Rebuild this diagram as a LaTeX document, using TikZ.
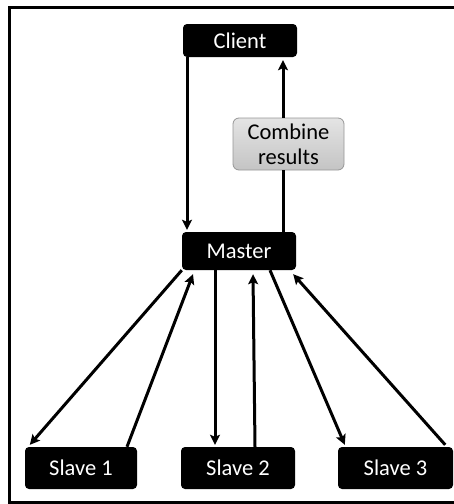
\documentclass[tikz,border=0pt]{standalone}
\usepackage{fontspec}
\setmainfont{Carlito}
\usepackage{tikz}
\usetikzlibrary{arrows.meta,positioning,calc}
\definecolor{myblack}{RGB}{0,0,0}
\definecolor{mygray}{RGB}{150,150,150}
\definecolor{mygraylt}{RGB}{228,228,228}
\definecolor{mygraydk}{RGB}{196,196,196}

\tikzset{
  blackbox/.style={fill=myblack, text=white, rounded corners=4pt,
                   inner sep=0pt, align=center},
  graybox/.style={draw=mygray, line width=0.8pt, top color=mygraylt,
                  bottom color=mygraydk, rounded corners=6pt,
                  inner sep=0pt, align=center},
  arr/.style={line width=3pt, -{Stealth[length=10pt,width=10pt,inset=2pt]}},
  plain/.style={line width=3pt}
}

\begin{document}
\begin{tikzpicture}[x=1pt,y=-1pt,font=\fontsize{22.5}{25}\selectfont]
  \useasboundingbox (0,0) rectangle (454,504);
  % outer frame
  \draw[line width=3pt] (9,502) -- (9,7) -- (480,7) -- (480,502) -- cycle;

  \node[blackbox, minimum width=114pt, minimum height=33pt](client) at (240,40.5){Client};
  \node[blackbox, minimum width=114pt, minimum height=38pt](master) at (239,251){Master};
  \node[graybox, minimum width=111pt, minimum height=52pt](combine) at (288.5,144){Combine\\results};
  \node[blackbox, minimum width=112pt, minimum height=42pt](slave1) at (81,468){Slave 1};
  \node[blackbox, minimum width=114pt, minimum height=42pt](slave2) at (238,468){Slave 2};
  \node[blackbox, minimum width=115pt, minimum height=42pt](slave3) at (395.5,468){Slave 3};

  % client and master
  \draw[arr] ([xshift=-53pt]client.south) -- ([xshift=-52pt,yshift=2pt]master.north);
  \coordinate (up) at ([xshift=44pt]master.north);
  \draw[plain] (up) -- (up |- combine.south);
  \draw[arr] (up |- combine.north) -- ([yshift=-3pt]up |- client.south);

  % master and slaves
  \draw[arr] (master.south west) -- ([xshift=5pt,yshift=2pt]slave1.north west);
  \draw[arr] ([xshift=46pt]slave1.north) -- ([xshift=-46pt,yshift=-4pt]master.south);
  \draw[arr] ([xshift=-24pt]master.south) -- ([xshift=-23pt,yshift=2pt]slave2.north);
  \draw[arr] ([xshift=17pt]slave2.north) -- ([xshift=14pt,yshift=-4pt]master.south);
  \draw[arr] ([xshift=31pt]master.south) -- ([xshift=7pt,yshift=2pt]slave3.north west);
  \draw[arr] ([xshift=-8pt,yshift=2pt]slave3.north east) -- ([xshift=-3pt,yshift=-4pt]master.south east);
\end{tikzpicture}
\end{document}
